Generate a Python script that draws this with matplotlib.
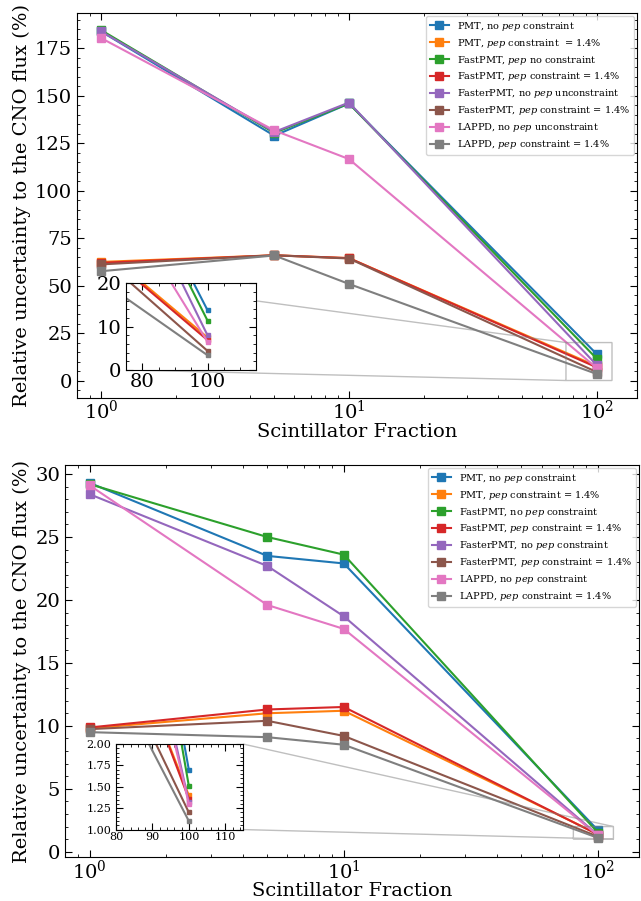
import matplotlib
matplotlib.use('Agg')
import matplotlib.pyplot as plt
from matplotlib.ticker import MultipleLocator

plt.rcParams['font.family'] = 'DejaVu Serif'
plt.rcParams['mathtext.fontset'] = 'dejavuserif'

# scintillator fractions
frac = [1, 5, 10, 100]

# top panel (pep unconstrained labels)
labels_top = ['PMT, no $pep$ constraint',
              'PMT, $pep$ constraint  = 1.4%',
              'FastPMT, $pep$ no constraint',
              'FastPMT, $pep$ constraint = 1.4%',
              'FasterPMT, no $pep$ unconstraint',
              'FasterPMT, $pep$ constraint = 1.4%',
              'LAPPD, no $pep$ unconstraint',
              'LAPPD, $pep$ constraint = 1.4%']
pmt_top = [184.0, 129.0, 146.0, 13.8]
pmt_pep_top = [62.5, 66.0, 64.5, 7.5]
fast_top = [184.7, 130.5, 146.0, 11.4]
fast_pep_top = [62.0, 66.0, 64.5, 6.9]
faster_top = [184.0, 131.0, 146.5, 8.0]
faster_pep_top = [61.2, 66.0, 64.3, 4.4]
lappd_top = [180.5, 131.8, 116.7, 6.5]
lappd_pep_top = [57.6, 65.9, 50.9, 3.4]

# bottom panel
labels_bot = ['PMT, no $pep$ constraint',
              'PMT, $pep$ constraint = 1.4%',
              'FastPMT, no $pep$ constraint',
              'FastPMT, $pep$ constraint = 1.4%',
              'FasterPMT, no $pep$ constraint',
              'FasterPMT, $pep$ constraint = 1.4%',
              'LAPPD, no $pep$ constraint',
              'LAPPD, $pep$ constraint = 1.4%']
pmt_bot = [29.3, 23.5, 22.9, 1.70]
pmt_pep_bot = [9.8, 11.0, 11.2, 1.40]
fast_bot = [29.2, 25.0, 23.6, 1.51]
fast_pep_bot = [9.87, 11.3, 11.5, 1.36]
faster_bot = [28.4, 22.7, 18.7, 1.32]
faster_pep_bot = [9.74, 10.4, 9.2, 1.20]
lappd_bot = [29.1, 19.6, 17.7, 1.30]
lappd_pep_bot = [9.5, 9.1, 8.5, 1.10]

series_top = [pmt_top, pmt_pep_top, fast_top, fast_pep_top,
              faster_top, faster_pep_top, lappd_top, lappd_pep_top]
series_bot = [pmt_bot, pmt_pep_bot, fast_bot, fast_pep_bot,
              faster_bot, faster_pep_bot, lappd_bot, lappd_pep_bot]


def style_ticks(ax, size, xpad=2):
    ax.tick_params(which='both', direction='in', top=True, right=True, labelsize=size)
    ax.tick_params(which='major', length=5)
    ax.tick_params(which='minor', length=2.5)
    ax.tick_params(axis='x', pad=xpad)


fig = plt.figure(figsize=(6.41, 9.01), dpi=100)
ax1 = fig.add_axes([0.1201, 0.5583, 0.8736, 0.4273])
ax2 = fig.add_axes([0.1014, 0.0488, 0.8955, 0.4351])

panels = [
    (ax1, series_top, labels_top, (-9.2, 193.7), 25, 5,
     [0.0875, 0.0727, 0.233, 0.225], (75, 115), (0, 20), 20, 5, 10, 2, 14),
    (ax2, series_bot, labels_bot, (-0.42, 30.72), 5, 1,
     [0.0889, 0.0700, 0.222, 0.218], (80, 115), (1, 2), 10, 2, 0.25, 0.05, 8),
]

for (ax, series, labels, ylim, ymaj, ymin, ins_pos, ixl, iyl,
     ixmaj, ixmin, iymaj, iymin, ins_fs) in panels:
    for vals, lab in zip(series, labels):
        ax.plot(frac, vals, marker='s', markersize=6, linewidth=1.5, label=lab)
    ax.set_xscale('log')
    ax.set_xlim(0.8, 145)
    ax.set_ylim(*ylim)
    ax.yaxis.set_major_locator(MultipleLocator(ymaj))
    ax.yaxis.set_minor_locator(MultipleLocator(ymin))
    style_ticks(ax, 14, xpad=1.5)
    ax.set_xlabel('Scintillator Fraction', fontsize=14, labelpad=0)
    ax.set_ylabel('Relative uncertainty to the CNO flux (%)', fontsize=14, labelpad=3)
    ax.legend(loc='upper right', fontsize=7.0, handlelength=2.0, labelspacing=0.4,
              borderaxespad=0.3)

    axins = ax.inset_axes(ins_pos)
    for vals in series:
        axins.plot(frac, vals, marker='s', markersize=3, linewidth=1.5)
    axins.set_xlim(*ixl)
    axins.set_ylim(*iyl)
    axins.xaxis.set_major_locator(MultipleLocator(ixmaj))
    axins.xaxis.set_minor_locator(MultipleLocator(ixmin))
    axins.yaxis.set_major_locator(MultipleLocator(iymaj))
    axins.yaxis.set_minor_locator(MultipleLocator(iymin))
    style_ticks(axins, ins_fs)
    ax.indicate_inset_zoom(axins, edgecolor='0.5')

fig.savefig('out.png', dpi=100)
